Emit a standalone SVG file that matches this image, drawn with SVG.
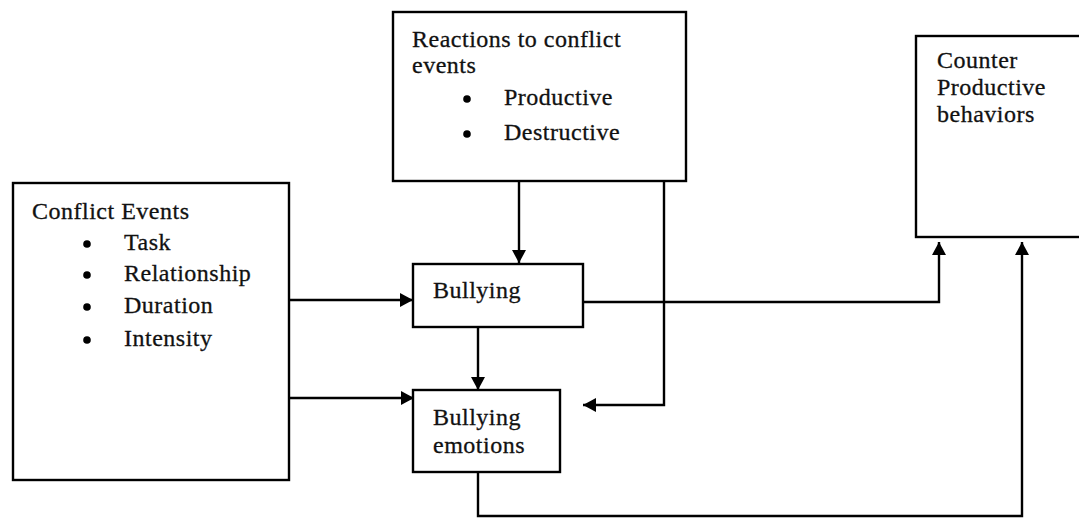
<svg xmlns="http://www.w3.org/2000/svg" width="1079" height="518" viewBox="0 0 1079 518">
<style>
.box{fill:#fff;stroke:#000;stroke-width:2.4}
.t{font-family:"Liberation Serif","Times New Roman",serif;font-size:24px;letter-spacing:0.5px;fill:#111;stroke:#111;stroke-width:0.3}
.c{fill:none;stroke:#000;stroke-width:2.4}
.dot{fill:#000}
</style>
<defs>
<marker id="ah" viewBox="0 0 13 14" refX="13" refY="7" markerWidth="13" markerHeight="14" markerUnits="userSpaceOnUse" orient="auto">
<path d="M0,0 L13,7 L0,14 Z" fill="#000"/>
</marker>
</defs>
<rect width="1079" height="518" fill="#fff"/>
<g id="reactions">
<rect class="box" x="393" y="12" width="293" height="169"/>
<text class="t" x="412" y="47">Reactions to conflict</text>
<text class="t" x="412" y="73">events</text>
<circle class="dot" cx="467" cy="99" r="3.8"/>
<text class="t" x="504" y="105">Productive</text>
<circle class="dot" cx="467" cy="134" r="3.8"/>
<text class="t" x="504" y="140">Destructive</text>
</g>
<g id="conflict">
<rect class="box" x="13" y="183" width="276" height="297"/>
<text class="t" x="32" y="219">Conflict Events</text>
<circle class="dot" cx="87" cy="244" r="3.8"/>
<text class="t" x="124" y="250">Task</text>
<circle class="dot" cx="87" cy="275" r="3.8"/>
<text class="t" x="124" y="281">Relationship</text>
<circle class="dot" cx="87" cy="307" r="3.8"/>
<text class="t" x="124" y="313">Duration</text>
<circle class="dot" cx="87" cy="340" r="3.8"/>
<text class="t" x="124" y="346">Intensity</text>
</g>
<g id="bullying">
<rect class="box" x="413" y="264" width="170" height="63"/>
<text class="t" x="433" y="298">Bullying</text>
</g>
<g id="emotions">
<rect class="box" x="413" y="390" width="147" height="82"/>
<text class="t" x="433" y="425">Bullying</text>
<text class="t" x="433" y="453">emotions</text>
</g>
<g id="counter">
<rect class="box" x="916" y="36" width="175" height="201"/>
<text class="t" x="937" y="68">Counter</text>
<text class="t" x="937" y="95">Productive</text>
<text class="t" x="937" y="122">behaviors</text>
</g>
<g id="connectors">
<path class="c" d="M519,181 V263" marker-end="url(#ah)"/>
<path class="c" d="M664,181 V405 H583" marker-end="url(#ah)"/>
<path class="c" d="M289,300 H413" marker-end="url(#ah)"/>
<path class="c" d="M289,398 H414" marker-end="url(#ah)"/>
<path class="c" d="M478,327 V390" marker-end="url(#ah)"/>
<path class="c" d="M583,302 H939 V242" marker-end="url(#ah)"/>
<path class="c" d="M478,472 V516 H1022 V242" marker-end="url(#ah)"/>
</g>
</svg>
